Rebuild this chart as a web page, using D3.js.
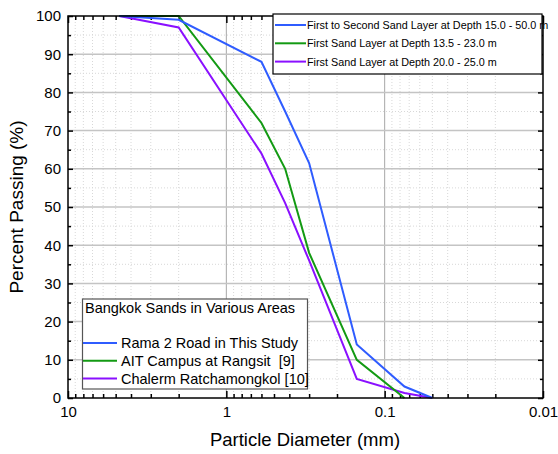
<!DOCTYPE html>
<html><head><meta charset="utf-8">
<script src="https://cdn.jsdelivr.net/npm/d3@7"></script>
<style>body{margin:0;background:#fff}svg{display:block;font-family:"Liberation Sans",Arial,sans-serif}text{white-space:pre}</style>
</head><body><svg id="c" width="558" height="454"></svg>
<script>
const sieveSizes = [4.75, 2.0, 0.6, 0.425, 0.3, 0.15, 0.075, 0.05];
const rama2 = [100, 99, 88, 75, 61.5, 14, 3, 0];
const aitCampus = [100, 100, 72, 60, 38, 10, 0, null];
const chalerm = [100, 97, 64, 51, 36, 5, 1.3, 0];
const xTickValues = [10, 1, 0.1, 0.01];
const xTickLabels = ["10", "1", "0.1", "0.01"];
const yTickValues = [0, 10, 20, 30, 40, 50, 60, 70, 80, 90, 100];
const depthLegend = ["First to Second Sand Layer at Depth 15.0 - 50.0 m",
  "First Sand Layer at Depth 13.5 - 23.0 m",
  "First Sand Layer at Depth 20.0 - 25.0 m"];
const areaLegend = ["Rama 2 Road in This Study", "AIT Campus at Rangsit  [9]", "Chalerm Ratchamongkol [10]"];
const areaTitle = "Bangkok Sands in Various Areas";
const colors = ["#2f5cff", "#139a13", "#8a10ff"];

const svg = d3.select("#c");
const L = 68, R = 543, T = 16, B = 398;
const x = d3.scaleLog().domain([10, 0.01]).range([L, R]);
const y = d3.scaleLinear().domain([0, 100]).range([B, T]);

const minorX = [];
[1, 0.1, 0.01].forEach(d => { for (let k = 2; k <= 9; k++) minorX.push(d * k); });
const minorY = d3.range(5, 100, 10);

const g = svg.append("g");
g.selectAll(".mgx").data(minorX).join("line")
  .attr("x1", d => x(d)).attr("x2", d => x(d)).attr("y1", T).attr("y2", B)
  .attr("stroke", "#d8d8d8").attr("stroke-width", 1).attr("stroke-dasharray", "1,2");
g.selectAll(".mgy").data(minorY).join("line")
  .attr("x1", L).attr("x2", R).attr("y1", d => y(d)).attr("y2", d => y(d))
  .attr("stroke", "#d8d8d8").attr("stroke-width", 1).attr("stroke-dasharray", "1,2");
g.selectAll(".Mgx").data([1, 0.1]).join("line")
  .attr("x1", d => x(d)).attr("x2", d => x(d)).attr("y1", T).attr("y2", B)
  .attr("stroke", "#a8a8a8").attr("stroke-width", 1);
g.selectAll(".Mgy").data(yTickValues.slice(1, -1)).join("line")
  .attr("x1", L).attr("x2", R).attr("y1", d => y(d)).attr("y2", d => y(d))
  .attr("stroke", "#c4c4c4").attr("stroke-width", 1.5);

const axB = d3.axisBottom(x).tickValues(xTickValues).tickSize(-7).tickFormat((d, i) => xTickLabels[i]);
const axBm = d3.axisBottom(x).tickValues(minorX).tickSize(-4).tickFormat("");
const axT = d3.axisTop(x).tickValues(xTickValues).tickSize(-7).tickFormat("");
const axTm = d3.axisTop(x).tickValues(minorX).tickSize(-4).tickFormat("");
const axL = d3.axisLeft(y).tickValues(yTickValues).tickSize(-5).tickFormat(d3.format("d"));
const axLm = d3.axisLeft(y).tickValues(minorY).tickSize(-3).tickFormat("");
const axR = d3.axisRight(y).tickValues(yTickValues).tickSize(-5).tickFormat("");
const axRm = d3.axisRight(y).tickValues(minorY).tickSize(-3).tickFormat("");

function addAxis(ax, tr) {
  const a = svg.append("g").attr("transform", tr).call(ax);
  a.select(".domain").remove();
  a.selectAll(".tick line").attr("stroke", "#000").attr("stroke-width", 1.5);
  return a;
}
const ab = addAxis(axB, `translate(0,${B})`);
ab.selectAll("text").attr("font-size", 15).attr("fill", "#000").attr("dy", "1.05em").attr("y", 3);
addAxis(axBm, `translate(0,${B})`);
addAxis(axT, `translate(0,${T})`);
addAxis(axTm, `translate(0,${T})`);
const al = addAxis(axL, `translate(${L},0)`);
al.selectAll("text").attr("font-size", 15).attr("fill", "#000").attr("x", -7);
addAxis(axLm, `translate(${L},0)`);
addAxis(axR, `translate(${R},0)`);
addAxis(axRm, `translate(${R},0)`);

const series = [rama2, aitCampus, chalerm];
const line = d3.line().defined(d => d[1] !== null).x(d => x(d[0])).y(d => y(d[1]));
[2, 1, 0].forEach(i => {
  const pts = sieveSizes.map((s, j) => [s, series[i][j]]);
  svg.append("path").datum(pts).attr("d", line).attr("fill", "none")
    .attr("stroke", colors[i]).attr("stroke-width", 2).attr("stroke-linejoin", "miter");
});

svg.append("rect").attr("x", L).attr("y", T).attr("width", R - L).attr("height", B - T)
  .attr("fill", "none").attr("stroke", "#000").attr("stroke-width", 1.5);

const lg1 = svg.append("g");
lg1.append("rect").attr("x", 273).attr("y", 14).attr("width", 269).attr("height", 60)
  .attr("fill", "#fff").attr("stroke", "#000").attr("stroke-width", 1.2);
depthLegend.forEach((t, i) => {
  const yy = 25 + i * 18.3;
  lg1.append("line").attr("x1", 275).attr("x2", 306).attr("y1", yy).attr("y2", yy)
    .attr("stroke", colors[i]).attr("stroke-width", 2);
  lg1.append("text").attr("x", 307).attr("y", yy + 4).attr("font-size", 10.8).text(t);
});

const lg2 = svg.append("g");
lg2.append("rect").attr("x", 82.5).attr("y", 299).attr("width", 225).attr("height", 90)
  .attr("fill", "#fff").attr("stroke", "#555").attr("stroke-width", 1.2);
lg2.append("text").attr("x", 85).attr("y", 313).attr("font-size", 14.5).text(areaTitle);
areaLegend.forEach((t, i) => {
  const yy = 343 + i * 17.8;
  lg2.append("line").attr("x1", 83).attr("x2", 117).attr("y1", yy).attr("y2", yy)
    .attr("stroke", colors[i]).attr("stroke-width", 2);
  lg2.append("text").attr("x", 121).attr("y", yy + 5).attr("font-size", 14.5).text(t);
});

svg.append("text").attr("x", 305).attr("y", 446).attr("text-anchor", "middle")
  .attr("font-size", 18.5).text("Particle Diameter (mm)");
svg.append("text").attr("transform", `translate(23,${(T + B) / 2}) rotate(-90)`)
  .attr("text-anchor", "middle").attr("font-size", 19).text("Percent Passing (%)");
</script></body></html>
